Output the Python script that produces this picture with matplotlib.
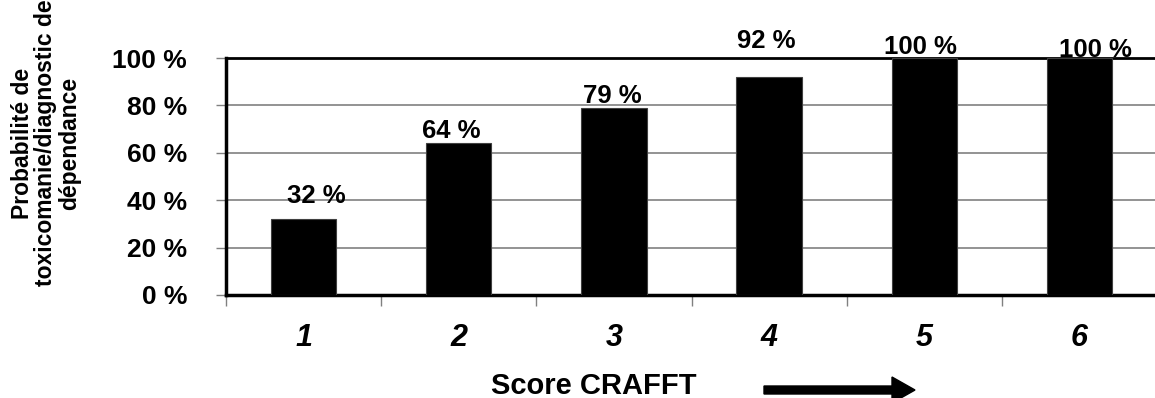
import matplotlib
matplotlib.use("Agg")
import matplotlib.pyplot as plt
import matplotlib.patches as mpatches
from matplotlib.transforms import IdentityTransform

plt.rcParams['font.family'] = ['Liberation Sans', 'DejaVu Sans']

# data
scores = [1, 2, 3, 4, 5, 6]
probabilities = [32, 64, 79, 92, 100, 100]
y_ticks = [0, 20, 40, 60, 80, 100]

# hand-placed value labels (pixel offsets from the bar top)
label_dx = [13, -8, -2, -3, -4, 16]
label_dy = [16, 5, 5, 29, 4, 1]

W, H = 1155, 398
fig = plt.figure(figsize=(W / 100, H / 100), dpi=100)
ax = fig.add_axes([226 / W, (H - 295) / H, (1157 - 226) / W, (295 - 58) / H])

ax.bar(scores, probabilities, width=0.42, color='black', edgecolor='#404040', lw=0.8, zorder=3)

ax.set_xlim(0.5, 6.5)
ax.set_ylim(0, 100)

ax.set_yticks(y_ticks)
ax.set_yticklabels(['{} %'.format(v) for v in y_ticks], fontsize=19, fontweight='bold')
ax.yaxis.grid(True, color='#808080', lw=1.2, zorder=0)
ax.tick_params(axis='y', direction='out', length=7, width=1, color='#808080', pad=21)

ax.set_xticks([s - 0.5 for s in scores])
ax.set_xticklabels([])
ax.set_xticks(scores, minor=True)
ax.set_xticklabels([str(s) for s in scores], minor=True, fontsize=22,
                   fontweight='bold', fontstyle='italic')
ax.tick_params(axis='x', which='major', direction='out', length=8, width=1, color='#808080')
ax.tick_params(axis='x', which='minor', length=0, pad=20)

for side in ['left', 'bottom', 'top']:
    ax.spines[side].set_color('black')
ax.spines['left'].set_linewidth(2.5)
ax.spines['bottom'].set_linewidth(2.5)
ax.spines['top'].set_linewidth(2)
ax.spines['right'].set_visible(False)

for s, p, dx, dy in zip(scores, probabilities, label_dx, label_dy):
    ax.annotate('{} %'.format(p), xy=(s, p), xytext=(dx, dy), textcoords='offset pixels',
                ha='center', va='baseline', fontsize=18.5, fontweight='bold',
                annotation_clip=False)

fig.text(46 / W, 1 - 143 / H, 'Probabilité de\ntoxicomanie/diagnostic de\ndépendance',
         rotation=90, ha='center', va='center', multialignment='center',
         fontsize=16.5, fontweight='bold', linespacing=1.02)

fig.text(594 / W, 1 - 386 / H, 'Score CRAFFT', ha='center', va='center',
         fontsize=21, fontweight='bold')

arrow = mpatches.FancyArrow(764, H - 390, 151, 0, width=8, head_width=26, head_length=23,
                            length_includes_head=True, color='black', transform=IdentityTransform())
fig.add_artist(arrow)

fig.savefig('out.png', dpi=100)
